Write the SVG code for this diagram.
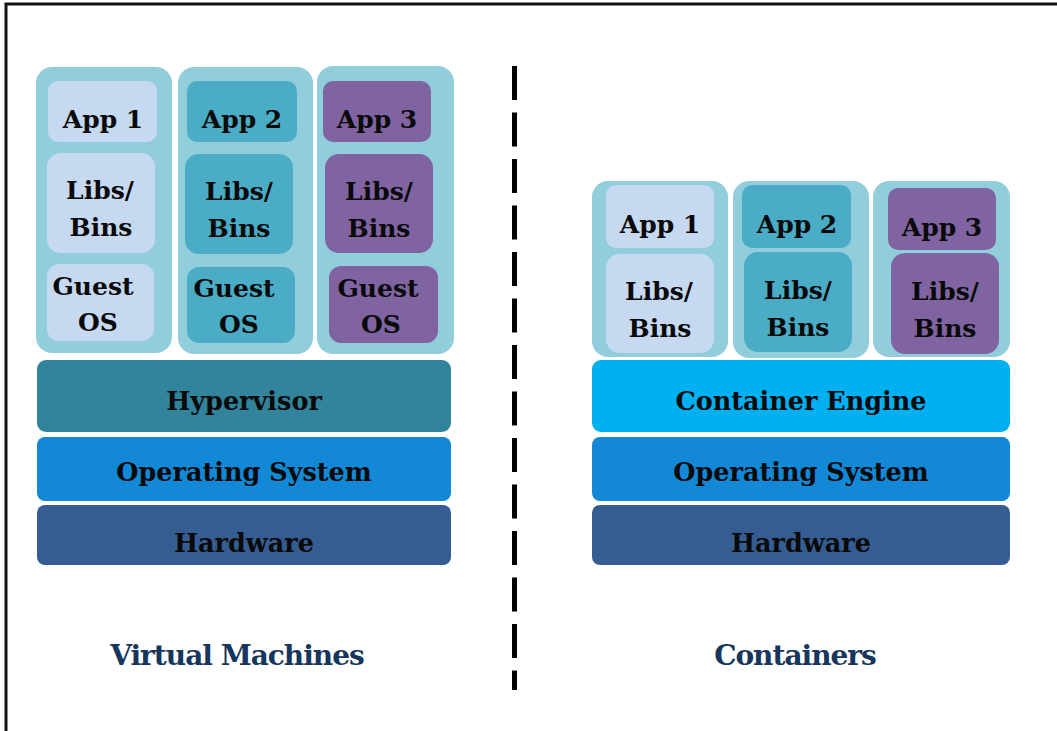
<svg xmlns="http://www.w3.org/2000/svg" width="1057" height="731" viewBox="0 0 1057 731">
<style>
.t{font-family:"DejaVu Serif","Liberation Serif",serif;font-weight:bold;fill:#0a0a0a;text-anchor:middle;font-size:25px}
.b{font-size:25.5px}
.cap{font-family:"DejaVu Serif","Liberation Serif",serif;font-weight:bold;fill:#17365D;text-anchor:middle;font-size:28px;letter-spacing:-1px}
.col{fill:#92CDDC}
.c1{fill:#C6D9F1}
.c2{fill:#4BACC6}
.c3{fill:#8064A2}
.hyp{fill:#31849B}
.eng{fill:#00B0F0}
.os{fill:#1288D6}
.hw{fill:#355D92}
</style>
<rect width="1057" height="731" fill="#fff"/>
<g id="frame"><path d="M6 731 V4 H1057" fill="none" stroke="#111" stroke-width="3"/></g>
<g id="divider"><line x1="514.5" y1="66" x2="514.5" y2="690" stroke="#000" stroke-width="5" stroke-dasharray="34 12.5"/></g>

<g id="vm1">
<rect class="col" x="36" y="67" width="136" height="286" rx="16"/>
<rect class="c1" x="48" y="81" width="109" height="61" rx="10"/>
<text class="t" x="103" y="128">App 1</text>
<rect class="c1" x="47" y="153" width="108" height="100" rx="14"/>
<text class="t" x="100" y="199">Libs/</text><text class="t" x="101" y="236">Bins</text>
<rect class="c1" x="47" y="264" width="107" height="77" rx="12"/>
<text class="t" x="93" y="295">Guest</text><text class="t" x="98" y="331">OS</text>
</g>
<g id="vm2">
<rect class="col" x="178" y="67" width="135" height="287" rx="16"/>
<rect class="c2" x="187" y="81" width="110" height="61" rx="10"/>
<text class="t" x="242" y="128">App 2</text>
<rect class="c2" x="185" y="154" width="108" height="100" rx="14"/>
<text class="t" x="239" y="200">Libs/</text><text class="t" x="239" y="237">Bins</text>
<rect class="c2" x="187" y="267" width="108" height="76" rx="12"/>
<text class="t" x="234" y="297">Guest</text><text class="t" x="239" y="333">OS</text>
</g>
<g id="vm3">
<rect class="col" x="317" y="66" width="137" height="288" rx="16"/>
<rect class="c3" x="323" y="81" width="108" height="61" rx="10"/>
<text class="t" x="377" y="128">App 3</text>
<rect class="c3" x="325" y="154" width="108" height="99" rx="14"/>
<text class="t" x="379" y="200">Libs/</text><text class="t" x="379" y="237">Bins</text>
<rect class="c3" x="329" y="266" width="109" height="77" rx="12"/>
<text class="t" x="378" y="297">Guest</text><text class="t" x="381" y="333">OS</text>
</g>
<g id="hypervisor"><rect class="hyp" x="37" y="360" width="414" height="72" rx="9"/><text class="t b" x="244" y="410">Hypervisor</text></g>
<g id="os-left"><rect class="os" x="37" y="437" width="414" height="64" rx="8"/><text class="t b" x="244" y="481">Operating System</text></g>
<g id="hw-left"><rect class="hw" x="37" y="505" width="414" height="60" rx="8"/><text class="t b" x="244" y="552">Hardware</text></g>

<g id="ct1">
<rect class="col" x="592" y="181" width="136" height="176" rx="16"/>
<rect class="c1" x="606" y="185" width="108" height="63" rx="10"/>
<text class="t" x="660" y="233">App 1</text>
<rect class="c1" x="606" y="254" width="108" height="99" rx="14"/>
<text class="t" x="659" y="300">Libs/</text><text class="t" x="660" y="337">Bins</text>
</g>
<g id="ct2">
<rect class="col" x="733" y="181" width="136" height="177" rx="16"/>
<rect class="c2" x="742" y="185" width="109" height="63" rx="10"/>
<text class="t" x="797" y="233">App 2</text>
<rect class="c2" x="744" y="252" width="108" height="100" rx="14"/>
<text class="t" x="798" y="299">Libs/</text><text class="t" x="798" y="336">Bins</text>
</g>
<g id="ct3">
<rect class="col" x="873" y="181" width="137" height="176" rx="16"/>
<rect class="c3" x="888" y="188" width="108" height="62" rx="10"/>
<text class="t" x="942" y="236">App 3</text>
<rect class="c3" x="891" y="253" width="108" height="101" rx="14"/>
<text class="t" x="945" y="300">Libs/</text><text class="t" x="945" y="337">Bins</text>
</g>
<g id="engine"><rect class="eng" x="592" y="360" width="418" height="72" rx="9"/><text class="t b" x="801" y="410">Container Engine</text></g>
<g id="os-right"><rect class="os" x="592" y="437" width="418" height="64" rx="8"/><text class="t b" x="801" y="481">Operating System</text></g>
<g id="hw-right"><rect class="hw" x="592" y="505" width="418" height="60" rx="8"/><text class="t b" x="801" y="552">Hardware</text></g>

<text class="cap" x="237" y="665">Virtual Machines</text>
<text class="cap" x="795" y="665">Containers</text>
</svg>
